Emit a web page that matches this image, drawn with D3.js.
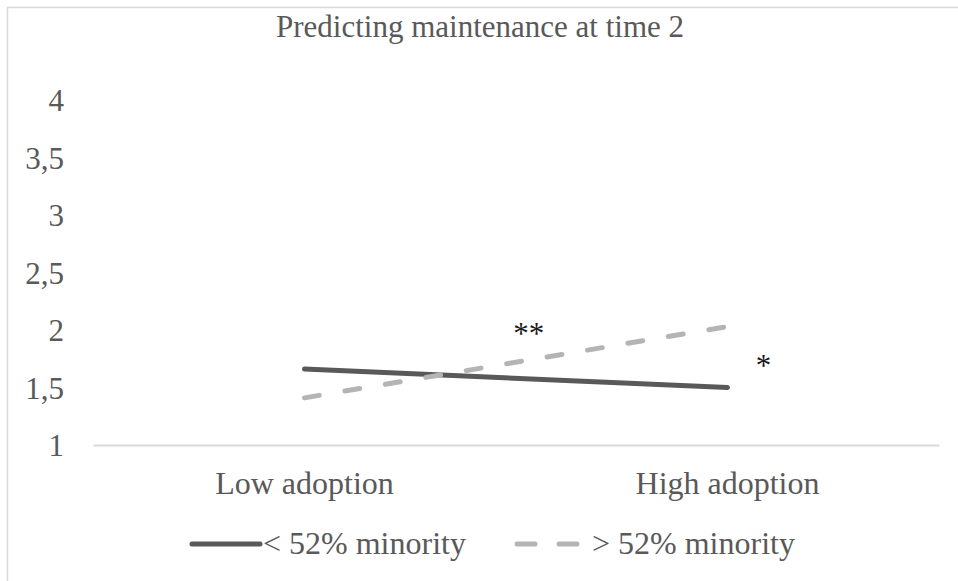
<!DOCTYPE html>
<html>
<head>
<meta charset="utf-8">
<script src="https://cdn.jsdelivr.net/npm/d3@7"></script>
<style>
  html, body { margin: 0; padding: 0; background: #fff; }
  svg { display: block; }
  text { font-family: "Liberation Serif", "Times New Roman", serif; }
</style>
</head>
<body>
<svg id="chart" width="958" height="581"></svg>
<script>
const categories = ["Low adoption", "High adoption"];
const seriesNames = ["< 52% minority", "> 52% minority"];
const lowMinority = [1.66, 1.50];
const highMinority = [1.41, 2.03];
const yTicks = [1, 1.5, 2, 2.5, 3, 3.5, 4];
const title = "Predicting maintenance at time 2";
const annotations = [
  { text: "**", cat: 0.53, value: 1.88 },
  { text: "*", cat: 1.085, value: 1.60 }
];

const svg = d3.select("#chart");
const textColor = "#595959";
const fontSize = 31;
const labelSize = 32;

// outer chart border (only top & left visible)
svg.append("rect")
  .attr("x", 7.5).attr("y", 7.5)
  .attr("width", 1200).attr("height", 1200)
  .attr("fill", "none")
  .attr("stroke", "#d9d9d9")
  .attr("stroke-width", 1.5);

const plot = { left: 93, right: 939, top: 100, bottom: 445 };

const x = d3.scaleBand().domain(categories).range([plot.left, plot.right]).padding(0);
const xc = c => x(c) + x.bandwidth() / 2;
const xi = i => plot.left + (i + 0.5) * x.bandwidth();
const y = d3.scaleLinear().domain([1, 4]).range([plot.bottom, plot.top]);

const locale = d3.formatLocale({ decimal: ",", thousands: ".", grouping: [3], currency: ["", "€"] });
const fmt = v => locale.format("~g")(v);

// title
svg.append("text")
  .attr("x", 480).attr("y", 37)
  .attr("text-anchor", "middle")
  .attr("font-size", fontSize)
  .attr("fill", textColor)
  .text(title);

// y axis labels (no line)
const yAxis = d3.axisLeft(y).tickValues(yTicks).tickFormat(fmt).tickSize(0).tickPadding(0);
const yg = svg.append("g").attr("transform", `translate(64,0)`).call(yAxis);
yg.select(".domain").remove();
yg.selectAll("text")
  .attr("font-family", '"Liberation Serif", "Times New Roman", serif')
  .attr("font-size", fontSize)
  .attr("fill", textColor)
  .attr("dy", "0.34em");

// x axis
const xAxis = d3.axisBottom(x).tickSize(0).tickPadding(0);
const xg = svg.append("g").attr("transform", `translate(0,${plot.bottom})`).call(xAxis);
xg.select(".domain").attr("stroke", "#d9d9d9").attr("stroke-width", 2);
xg.selectAll("text")
  .attr("font-family", '"Liberation Serif", "Times New Roman", serif')
  .attr("font-size", labelSize)
  .attr("fill", textColor)
  .attr("y", 49)
  .attr("dy", 0);

// lines
const line = d3.line().x((d, i) => xc(categories[i])).y(d => y(d));

svg.append("path")
  .datum(lowMinority)
  .attr("d", line)
  .attr("fill", "none")
  .attr("stroke", "#595959")
  .attr("stroke-width", 5)
  .attr("stroke-linecap", "round");

svg.append("path")
  .datum(highMinority)
  .attr("d", line)
  .attr("fill", "none")
  .attr("stroke", "#b4b4b4")
  .attr("stroke-width", 5)
  .attr("stroke-linecap", "round")
  .attr("stroke-dasharray", "15 26");

// annotations
svg.selectAll("text.anno")
  .data(annotations)
  .enter().append("text")
  .attr("class", "anno")
  .attr("x", d => xi(d.cat))
  .attr("y", d => y(d.value))
  .attr("text-anchor", "middle")
  .attr("font-size", fontSize)
  .attr("fill", "#1a1a1a")
  .text(d => d.text);

// legend
const leg = svg.append("g");
leg.append("line")
  .attr("x1", 192).attr("x2", 260).attr("y1", 544).attr("y2", 544)
  .attr("stroke", "#595959").attr("stroke-width", 5).attr("stroke-linecap", "round");
leg.append("text")
  .attr("x", 263).attr("y", 554)
  .attr("font-size", labelSize).attr("fill", textColor)
  .text(seriesNames[0]);
leg.append("line")
  .attr("x1", 517).attr("x2", 580).attr("y1", 544).attr("y2", 544)
  .attr("stroke", "#b4b4b4").attr("stroke-width", 5).attr("stroke-linecap", "round")
  .attr("stroke-dasharray", "18 24");
leg.append("text")
  .attr("x", 592).attr("y", 554)
  .attr("font-size", labelSize).attr("fill", textColor)
  .text(seriesNames[1]);
</script>
</body>
</html>
